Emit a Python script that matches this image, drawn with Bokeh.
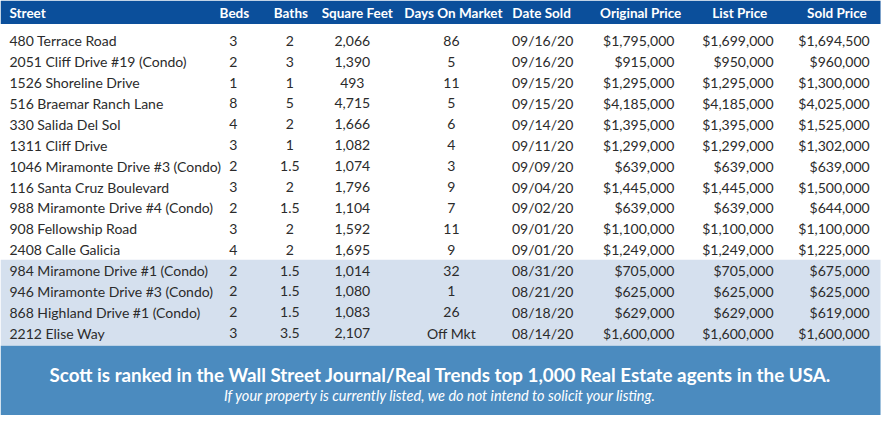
from bokeh.plotting import figure
from bokeh.models import ColumnDataSource, Range1d
from bokeh.core.properties import value
from bokeh.embed import file_html
from bokeh.resources import INLINE

# ---------------- data ----------------
headers = ["Street", "Beds", "Baths", "Square Feet", "Days On Market",
           "Date Sold", "Original Price", "List Price", "Sold Price"]
streets = ["480 Terrace Road", "2051 Cliff Drive #19 (Condo)", "1526 Shoreline Drive",
           "516 Braemar Ranch Lane", "330 Salida Del Sol", "1311 Cliff Drive",
           "1046 Miramonte Drive #3 (Condo)", "116 Santa Cruz Boulevard",
           "988 Miramonte Drive #4 (Condo)", "908 Fellowship Road", "2408 Calle Galicia",
           "984 Miramone Drive #1 (Condo)", "946 Miramonte Drive #3 (Condo)",
           "868 Highland Drive #1 (Condo)", "2212 Elise Way"]
beds = ["3", "2", "1", "8", "4", "3", "2", "3", "2", "3", "4", "2", "2", "2", "3"]
baths = ["2", "3", "1", "5", "2", "1", "1.5", "2", "1.5", "2", "2", "1.5", "1.5", "1.5", "3.5"]
square_feet = ["2,066", "1,390", "493", "4,715", "1,666", "1,082", "1,074", "1,796",
               "1,104", "1,592", "1,695", "1,014", "1,080", "1,083", "2,107"]
days_on_market = ["86", "5", "11", "5", "6", "4", "3", "9", "7", "11", "9", "32", "1", "26", "Off Mkt"]
date_sold = ["09/16/20", "09/16/20", "09/15/20", "09/15/20", "09/14/20", "09/11/20",
             "09/09/20", "09/04/20", "09/02/20", "09/01/20", "09/01/20", "08/31/20",
             "08/21/20", "08/18/20", "08/14/20"]
original_price = ["$1,795,000", "$915,000", "$1,295,000", "$4,185,000", "$1,395,000",
                  "$1,299,000", "$639,000", "$1,445,000", "$639,000", "$1,100,000",
                  "$1,249,000", "$705,000", "$625,000", "$629,000", "$1,600,000"]
list_price = ["$1,699,000", "$950,000", "$1,295,000", "$4,185,000", "$1,395,000",
              "$1,299,000", "$639,000", "$1,445,000", "$639,000", "$1,100,000",
              "$1,249,000", "$705,000", "$625,000", "$629,000", "$1,600,000"]
sold_price = ["$1,694,500", "$960,000", "$1,300,000", "$4,025,000", "$1,525,000",
              "$1,302,000", "$639,000", "$1,500,000", "$644,000", "$1,100,000",
              "$1,225,000", "$675,000", "$625,000", "$619,000", "$1,600,000"]
shaded_from = 11  # first row of the shaded (August) block
footer_main = "Scott is ranked in the Wall Street Journal/Real Trends top 1,000 Real Estate agents in the USA."
footer_sub = "If your property is currently listed, we do not intend to solicit your listing."

columns = [streets, beds, baths, square_feet, days_on_market, date_sold,
           original_price, list_price, sold_price]

# ---------------- layout ----------------
HEADER_BLUE = "#0b4f9b"
FOOTER_BLUE = "#4b8bbf"
SHADE = "#d5e0ee"
TEXT = "#2b2b2b"

row_y0, row_dy = 41, 21.3
header_y = 13
# (value x, value align, header x, header align)
col_pos = [(9, "left", 9, "left"), (235, "center", 236, "center"),
           (292, "center", 293, "center"), (355, "center", 360, "center"),
           (455, "center", 457, "center"), (547, "center", 546, "center"),
           (680, "right", 646, "center"), (780, "right", 746, "center"),
           (877, "right", 844, "center")]

p = figure(width=883, height=415, x_range=Range1d(0, 891), y_range=Range1d(423, 0),
           output_backend="svg", toolbar_location=None, min_border=0,
           x_axis_location=None, y_axis_location=None)
p.grid.visible = False
p.outline_line_color = None
p.background_fill_color = "white"
p.border_fill_color = "white"

n = len(streets)
ys = [row_y0 + i * row_dy for i in range(n)]

# header band
p.quad(left=[0], right=[888], top=[0], bottom=[24], fill_color=HEADER_BLUE, line_color=None)
# shaded block
p.quad(left=[0], right=[888], top=[ys[shaded_from] - row_dy / 2 - 0.5],
       bottom=[ys[-1] + row_dy / 2 + 2], fill_color=SHADE, line_color=None)
# footer band
p.quad(left=[0], right=[888], top=[ys[-1] + row_dy / 2 + 2], bottom=[430],
       fill_color=FOOTER_BLUE, line_color=None)

HEAD_FONT = value("'Liberation Sans Narrow', 'Lato', sans-serif")
BODY_FONT = value("Lato")

for (vx, va, hx, ha), h, vals in zip(col_pos, headers, columns):
    p.text(x=[hx], y=[header_y], text=[h], text_font=HEAD_FONT, text_font_style="bold",
           text_font_size="13.5px", text_color="white", text_align=ha, text_baseline="middle")
    src = ColumnDataSource(dict(x=[vx] * n, y=ys, t=vals))
    p.text(x="x", y="y", text="t", source=src, text_font=BODY_FONT, text_font_size="14px",
           text_color=TEXT, text_align=va, text_baseline="middle")

p.text(x=[444], y=[381], text=[footer_main], text_font=HEAD_FONT, text_font_style="bold",
       text_font_size="18.8px", text_color="white", text_align="center", text_baseline="middle")
p.text(x=[444], y=[403], text=[footer_sub], text_font=BODY_FONT, text_font_style="italic",
       text_font_size="14.5px", text_color="white", text_align="center", text_baseline="middle")

open("out.html", "w").write(file_html(p, INLINE))
